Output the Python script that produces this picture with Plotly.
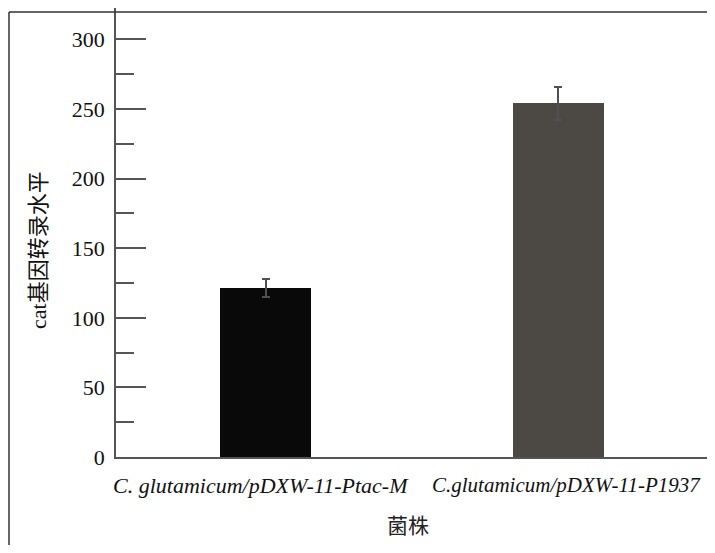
import plotly.graph_objects as go

categories = ["C. glutamicum/pDXW-11-Ptac-M", "C.glutamicum/pDXW-11-P1937"]
values = [121.5, 254]
errors = [6.5, 12]
bar_colors = ["#090909", "#4c4945"]
y_title = "cat基因转录水平"
x_title = "菌株"

FONT = "Liberation Serif, Times New Roman, Noto Sans CJK SC, serif"

# page has an 8px body margin: figure is laid out 8px left/up of the window coordinates
W, H = 707, 537
L, R, T, B = 108, 8, 0, 88
PW, PH = W - L - R, H - T - B

fig = go.Figure()
fig.add_trace(go.Bar(
    x=categories,
    y=values,
    width=0.311,
    marker=dict(color=bar_colors, line=dict(width=0)),
    error_y=dict(type="data", array=errors, visible=True,
                 color="#505050", thickness=2, width=4),
    showlegend=False,
))

annotations = [
    dict(x=categories[0], y=0, xref="x", yref="paper", text="<i>" + categories[0] + "</i>",
         showarrow=False, xshift=-5, yshift=-28, yanchor="middle",
         font=dict(family=FONT, size=22, color="#111111")),
    dict(x=categories[1], y=0, xref="x", yref="paper", text="<i>" + categories[1] + "</i>",
         showarrow=False, xshift=8, yshift=-28, yanchor="middle",
         font=dict(family=FONT, size=21, color="#111111")),
    dict(x=(400 - L) / PW, y=0, xref="paper", yref="paper", text=x_title,
         showarrow=False, yshift=-67, yanchor="middle",
         font=dict(family="Noto Sans CJK SC", size=21, color="#222222")),
    dict(x=0, y=1 - 242 / PH, xref="paper", yref="paper", text=y_title,
         showarrow=False, xshift=30 - L, xanchor="center", yanchor="middle", textangle=-90,
         font=dict(family=FONT, size=22, color="#111111")),
]

fig.update_layout(
    width=W, height=H,
    margin=dict(l=L, r=R, t=T, b=B, pad=0),
    paper_bgcolor="white", plot_bgcolor="white",
    font=dict(family=FONT, color="#111111", size=22),
    bargap=0,
    xaxis=dict(
        type="category",
        range=[-0.511, 1.509],
        showline=True, linecolor="#555555", linewidth=1.5,
        ticks="", showgrid=False, zeroline=False,
        showticklabels=False,
    ),
    yaxis=dict(
        range=[0, 322.6],
        showline=True, linecolor="#555555", linewidth=1.5,
        ticks="inside", ticklen=30, tickwidth=1.5, tickcolor="#555555",
        dtick=50, tick0=0,
        minor=dict(ticks="inside", ticklen=18, tickwidth=1.5, tickcolor="#555555", dtick=25, showgrid=False),
        showgrid=False, zeroline=False,
        tickfont=dict(family=FONT, size=22, color="#111111"),
        ticklabelstandoff=5,
    ),
    annotations=annotations,
    shapes=[
        dict(type="line", xref="paper", yref="paper",
             x0=(1 - L) / PW, x1=(1 - L) / PW,
             y0=1 - 4 / PH, y1=1 - (H - T) / PH,
             line=dict(color="#333333", width=1.5)),
        dict(type="line", xref="paper", yref="paper",
             x0=(1 - L) / PW, x1=(W - L) / PW,
             y0=1 - 4 / PH, y1=1 - 4 / PH,
             line=dict(color="#333333", width=1.5)),
    ],
)

fig.write_html("out.html")
